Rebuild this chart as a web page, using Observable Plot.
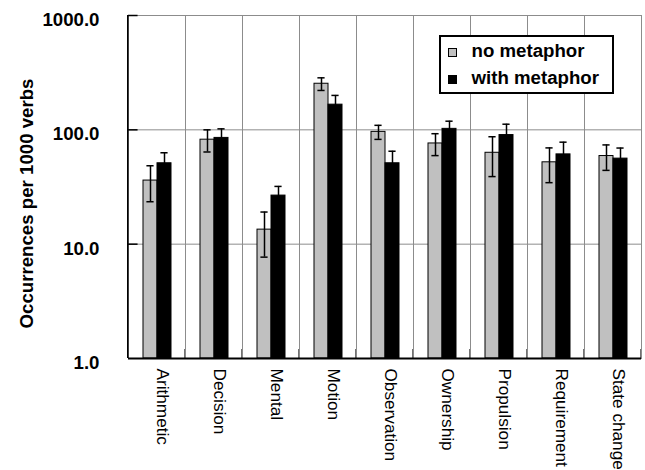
<!DOCTYPE html>
<html><head><meta charset="utf-8">
<script src="https://cdn.jsdelivr.net/npm/d3@7"></script>
<script src="https://cdn.jsdelivr.net/npm/@observablehq/plot@0.6"></script>
<style>
html,body{margin:0;padding:0;background:#fff;}
#wrap{position:relative;width:645px;height:470px;overflow:hidden;}
#legend{position:absolute;left:439px;top:35px;}
</style></head><body><div id="wrap"></div>
<script>
const categories = ["Arithmetic","Decision","Mental","Motion","Observation","Ownership","Propulsion","Requirement","State change"];
const series = ["no metaphor","with metaphor"];
const noMetaphor      = [36, 82, 13.4, 253, 96, 76, 63, 52, 59];
const noMetaphorErr   = [12.5, 18, 5.7, 32, 13.5, 16.5, 24, 17.5, 14.8];
const withMetaphor    = [51, 85, 26.6, 166, 51, 102, 90, 61, 56];
const withMetaphorErr = [12, 17, 5.4, 34, 14, 17, 22, 17, 13.3];
const yTicks = [1, 10, 100, 1000];
const colors = ["#c0c0c0", "#000000"];

const rows = categories.flatMap((c, i) => [
  {category: c, series: series[0], value: noMetaphor[i], err: noMetaphorErr[i]},
  {category: c, series: series[1], value: withMetaphor[i], err: withMetaphorErr[i]}
]);

const W = 645, H = 470, mL = 126, mR = 2, mT = 15, mB = 112;
const facetW = (W - mL - mR) / categories.length;
const font = "'Liberation Sans', Arial, Helvetica, sans-serif";
const grid = "#8c8c8c";

const chart = Plot.plot({
  width: W, height: H, marginLeft: mL, marginRight: mR, marginTop: mT, marginBottom: mB,
  style: {fontFamily: font, fontSize: "17.2px", color: "#000", background: "#fff"},
  fx: {domain: categories, paddingInner: 0, paddingOuter: 0, label: null},
  x: {domain: series, paddingInner: 0, paddingOuter: 0.94, axis: null},
  y: {type: "log", domain: [yTicks[0], yTicks[yTicks.length - 1]], label: null},
  color: {domain: series, range: colors},
  marks: [
    Plot.frame({stroke: grid, strokeWidth: 1}),
    Plot.ruleY(yTicks.slice(1, -1), {stroke: grid, strokeWidth: 1}),
    Plot.barY(rows, {fx: "category", x: "series", y1: () => yTicks[0], y2: "value", fill: "series", stroke: "#000", strokeWidth: 1}),
    Plot.ruleX(rows, {fx: "category", x: "series", y1: d => d.value - d.err, y2: d => d.value + d.err, stroke: "#000", strokeWidth: 1.5}),
    Plot.tickY(rows, {fx: "category", x: "series", y: d => d.value + d.err, stroke: "#000", strokeWidth: 1.5, insetLeft: 3.4, insetRight: 3.4}),
    Plot.tickY(rows, {fx: "category", x: "series", y: d => d.value - d.err, stroke: "#000", strokeWidth: 1.5, insetLeft: 3.4, insetRight: 3.4}),
    Plot.ruleY([yTicks[0]], {stroke: "#000", strokeWidth: 2}),
    Plot.rect(categories, {fx: d => d, y1: () => yTicks[0], y2: () => yTicks[0], fill: "#000", insetTop: -9, insetLeft: facetW - 1, insetRight: 0}),
    Plot.rect([categories[0]], {fx: d => d, y1: () => yTicks[0], y2: () => yTicks[yTicks.length - 1], fill: "#000", insetLeft: -1, insetRight: facetW - 1}),
    Plot.tickY(yTicks.slice(1), {y: d => d, fx: () => categories[0], stroke: "#000", strokeWidth: 1.5, insetRight: facetW - 10}),
    Plot.axisY(yTicks, {tickSize: 0, tickPadding: 29, tickFormat: d3.format(".1f"), fontSize: 18.67, fontWeight: "bold", dy: 4.5, label: null}),
    Plot.axisFx({anchor: "bottom", tickRotate: 90, tickSize: 0, tickPadding: 10, dx: 6, label: null, fontSize: 17.2}),
    Plot.text(["Occurrences per 1000 verbs"], {fx: () => categories[0], frameAnchor: "left", rotate: -90, textAnchor: "middle", lineAnchor: "bottom", dx: -96, dy: 16.5, fontWeight: "bold", fontSize: 18.67})
  ]
});
document.getElementById("wrap").appendChild(chart);

// Legend overlay
const lg = d3.select("#wrap").append("svg").attr("id", "legend")
  .attr("width", 175).attr("height", 59)
  .style("font-family", font);
lg.append("rect").attr("x", 1).attr("y", 1).attr("width", 173).attr("height", 57)
  .attr("fill", "#fff").attr("stroke", "#000").attr("stroke-width", 2);
series.forEach((s, i) => {
  lg.append("rect").attr("x", 9.5).attr("y", 13.5 + i * 27).attr("width", 8).attr("height", 8)
    .attr("fill", colors[i]).attr("stroke", "#000").attr("stroke-width", 1);
  lg.append("text").attr("x", 32.5).attr("y", 22.3 + i * 27)
    .attr("font-size", 18.67).attr("font-weight", "bold").attr("fill", "#000").text(s);
});
</script>
</body></html>
